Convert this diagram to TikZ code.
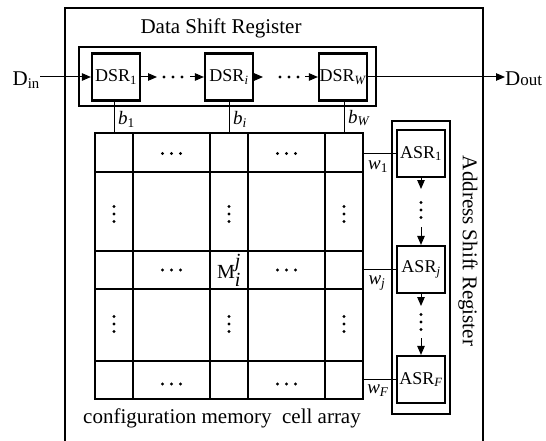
\documentclass[tikz,border=0pt]{standalone}
\usepackage{fontspec}
\setmainfont{Liberation Serif}
\usetikzlibrary{arrows.meta}
\begin{document}
\begin{tikzpicture}[x=1pt,y=-1pt,
  regbox/.style={draw, line width=2.2pt, minimum width=48, minimum height=47, inner sep=0pt, font=\fontsize{18}{20}\selectfont},
  outerbox/.style={draw, line width=2.2pt, inner sep=0pt},
  conn/.style={line width=1pt},
  arr/.style={line width=1pt, -{Triangle[length=9pt,width=7.5pt]}},
  lbl/.style={font=\fontsize{21}{24}\selectfont, inner sep=0pt},
  sml/.style={font=\fontsize{19}{20}\selectfont, inner sep=0pt},
  gridline/.style={line width=1.5pt},
  hd/.pic={\foreach \i in {-9,0,9} \fill (\i,0) circle (1.6pt);},
  vd/.pic={\foreach \i in {-7.5,0,7.5} \fill (0,\i) circle (1.6pt);}
]
\useasboundingbox (0,0) rectangle (546,441);
% outer frame
\draw[line width=2.2pt] (65,450) -- (65,8) -- (483,8) -- (483,450);
% Data shift register
\node[lbl] (dsrtitle) at (221,28) {Data Shift Register};
\node[outerbox, minimum width=297, minimum height=59] (dsrbox) at (227.5,76.5) {};
\node[regbox] (DSR1) at (116,77) {DSR\textsubscript{1}};
\node[regbox] (DSRi) at (229,77) {DSR\textsubscript{\textit{i}}};
\node[regbox] (DSRw) at (343,77) {DSR\textsubscript{\textit{W}}};
% Din / Dout
\node[sml, anchor=east] (din) at (40,80) {\fontsize{21}{21}\selectfont D\textsubscript{in}};
\node[sml, anchor=west] (dout) at (505,79) {\fontsize{21}{21}\selectfont D{\fontsize{17}{17}\selectfont out}};
\draw[arr] (din.east |- DSR1.west) -- (DSR1.west);
\draw[arr] (DSRw.east) -- (dout.west |- DSRw.east);
% arrows and dots between DSRs
\coordinate (a1) at (157,77);
\coordinate (a2) at (190,77);
\coordinate (a3) at (263,77);
\coordinate (a4) at (305,77);
\draw[arr] (DSR1.east) -- (a1);
\pic at (173,77) {hd};
\draw[arr] (a2) -- (DSRi.west);
\draw[arr] (DSRi.east) -- (a3);
\pic at (289,77) {hd};
\draw[arr] (a4) -- (DSRw.west);
% grid
\node[draw, line width=2.3pt, minimum width=268, minimum height=266, inner sep=0pt] (grid) at (229,266) {};
\foreach \x in {133,210,248,325} \draw[gridline] (\x,133) -- (\x,399);
\foreach \y in {172,251,289,361} \draw[gridline] (95,\y) -- (363,\y);
\foreach \x in {171.5,286.5} {
  \pic at (\x,153.5) {hd};
  \pic at (\x,270) {hd};
  \pic at (\x,384) {hd};
}
\foreach \x in {114,229,344} {
  \pic at (\x,214) {vd};
  \pic at (\x,324) {vd};
}
\node[font=\fontsize{20}{20}\selectfont, inner sep=0pt] (Mij) at (229,270) {M$^{\textit{j}}_{\textit{i}}$};
% b lines
\draw[conn] (DSR1.south -| 114,0) -- (grid.north -| 114,0);
\draw[conn] (DSRi.south) -- (DSRi.south |- grid.north);
\draw[conn] (DSRw.south -| 344,0) -- (grid.north -| 344,0);
\node[sml, anchor=west] (b1) at (118,119) {\textit{b}\textsubscript{1}};
\node[sml, anchor=west] (bi) at (233,119) {\textit{b}\textsubscript{\textit{i}}};
\node[sml, anchor=west] (bw) at (348,118) {\textit{b}\textsubscript{\textit{W}}};
% Address shift register
\node[outerbox, minimum width=58, minimum height=293] (asrbox) at (421,267.5) {};
\node[regbox] (ASR1) at (421,153.5) {ASR\textsubscript{1}};
\node[regbox] (ASRj) at (421,269.5) {ASR\textsubscript{\textit{j}}};
\node[regbox] (ASRF) at (421,379.5) {ASR\textsubscript{\textit{F}}};
\node[lbl, rotate=-90] (asrtitle) at (468,251) {Address Shift Register};
\coordinate (v1) at (421,189);
\coordinate (v2) at (421,227);
\coordinate (v3) at (421,306);
\coordinate (v4) at (421,338);
\draw[arr] (ASR1.south) -- (v1);
\pic at (421,210) {vd};
\draw[arr] (v2) -- (ASRj.north);
\draw[arr] (ASRj.south) -- (v3);
\pic at (421,322) {vd};
\draw[arr] (v4) -- (ASRF.north);
% w lines
\draw[conn] (ASR1.west) -- (ASR1.west -| grid.east);
\draw[conn] (ASRj.west) -- (ASRj.west -| grid.east);
\draw[conn] (ASRF.west) -- (ASRF.west -| grid.east);
\node[sml] (w1) at (378,167) {\textit{w}\textsubscript{1}};
\node[sml] (wj) at (377,283) {\textit{w}\textsubscript{\textit{j}}};
\node[sml] (wF) at (378,391) {\textit{w}\textsubscript{\textit{F}}};
% bottom label
\node[lbl] (cfg) at (222,418) {configuration memory\ \ cell array};
\end{tikzpicture}
\end{document}
